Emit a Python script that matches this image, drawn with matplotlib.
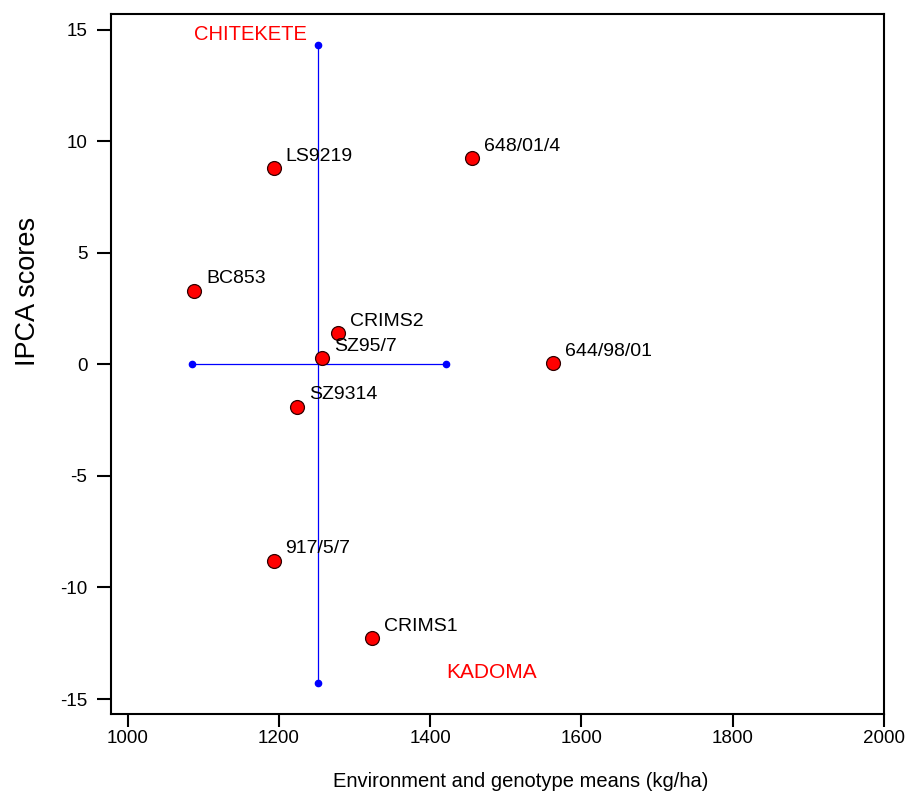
import matplotlib
matplotlib.use("Agg")
import matplotlib.pyplot as plt

plt.rcParams['font.family'] = ['Liberation Sans', 'DejaVu Sans']
plt.rcParams['axes.unicode_minus'] = False

# genotypes: mean yield (kg/ha) and IPCA1 score
genotipos = ['LS9219', '648/01/4', 'BC853', 'CRIMS2', 'SZ95/7',
             '644/98/01', 'SZ9314', '917/5/7', 'CRIMS1']
medias_gen = [1193, 1455, 1088, 1278, 1257, 1563, 1224, 1193, 1323]
ipca_gen = [8.8, 9.25, 3.3, 1.4, 0.28, 0.06, -1.9, -8.8, -12.27]

# environments
ambientes = ['CHITEKETE', 'KADOMA']
ipca_amb = [14.3, -14.3]
media_general = 1252
# horizontal cross line (environment means)
medias_amb = [1085, 1421]

fig = plt.figure(figsize=(9.14, 7.96), dpi=100)
ax = fig.add_axes([0.1214, 0.1030, 0.8458, 0.8794])

# blue cross
ax.plot([media_general, media_general], ipca_amb, color='blue', lw=0.9,
        marker='o', ms=4.5, zorder=2)
ax.plot(medias_amb, [0, 0], color='blue', lw=0.9, marker='o', ms=4.5, zorder=2)

# genotypes
ax.plot(medias_gen, ipca_gen, 'o', color='red', mec='#300000', mew=0.9,
        ms=10, zorder=3)
for nombre, x, y in zip(genotipos, medias_gen, ipca_gen):
    ax.annotate(nombre, (x, y), xytext=(8.5, 8.5), textcoords='offset points',
                ha='left', va='center', fontsize=14)

# environment labels
ax.text(1088, 14.76, ambientes[0], color='red', fontsize=14.5, ha='left', va='center')
ax.text(1421, -13.8, ambientes[1], color='red', fontsize=15, ha='left', va='center')

ax.set_xlim(978, 2000)
ax.set_ylim(-15.67, 15.7)
ax.set_xticks([1000, 1200, 1400, 1600, 1800, 2000])
ax.set_yticks([-15, -10, -5, 0, 5, 10, 15])

for s in ax.spines.values():
    s.set_linewidth(1.5)
ax.tick_params(axis='y', direction='out', length=10, width=1.5, pad=7, labelsize=13.5)
ax.tick_params(axis='x', direction='out', length=9.5, width=1.5, pad=2, labelsize=13.5)

ax.set_xlabel('Environment and genotype means (kg/ha)', fontsize=14.5)
ax.set_ylabel('IPCA scores', fontsize=19.5)
ax.xaxis.set_label_coords(0.53, -0.083)
ax.yaxis.set_label_coords(-0.09, 0.604)

fig.savefig('out.png', dpi=100)
